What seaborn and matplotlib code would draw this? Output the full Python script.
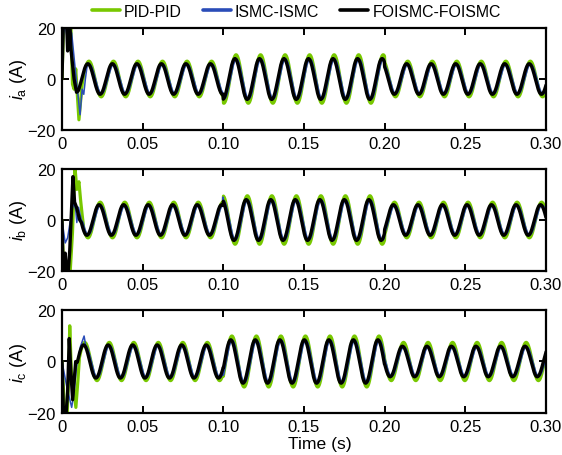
import numpy as np
import matplotlib
matplotlib.use('Agg')
import matplotlib.pyplot as plt
from matplotlib.lines import Line2D
import seaborn as sns

# 稳态参数
period = 0.0152                      # 电流周期 (s)
seg_edges = [0.0, 0.10, 0.20, 0.30]  # 负载切换时刻
phases = ['a', 'b', 'c']
peak_foismc = [0.0160, 0.0230, 0.0134]   # 各相 FOISMC 第一个稳态峰值时刻
peak_pid = [0.0167, 0.0237, 0.0141]
peak_ismc = [0.0170, 0.0240, 0.0144]

# 每段幅值 [0-0.1, 0.1-0.2, 0.2-0.3]
amp_pid = [[7.0, 9.5, 7.0], [7.0, 9.5, 7.0], [7.5, 10.0, 7.5]]
amp_ismc = [[5.8, 7.8, 5.8], [5.8, 7.8, 5.8], [6.3, 8.3, 5.8]]
amp_foismc = [[6.0, 8.0, 6.0], [6.0, 8.0, 6.0], [6.5, 8.5, 6.0]]

# 启动暂态
pid_tr_t = [[0, 0.001, 0.0025, 0.004, 0.0055, 0.0065, 0.0075, 0.0085, 0.0105, 0.0125],
            [0, 0.001, 0.003, 0.005, 0.0065, 0.008, 0.0092, 0.0105, 0.0115, 0.0125],
            [0, 0.0015, 0.0032, 0.0042, 0.0048, 0.0058, 0.0072, 0.0086, 0.0098]]
pid_tr_v = [[0, 22, 21, 22, 21, -2, -4, 4, -16, -2],
            [0, -20, -22, -21, -5, 21, 12, 15, 8, 2],
            [0, -18, -21, -5, 14, -4, -10, -18, -8]]
ismc_tr_t = [[0, 0.001, 0.002, 0.003, 0.0045, 0.006, 0.0085, 0.0112, 0.0125, 0.0135, 0.0145],
             [0, 0.002, 0.0035, 0.0055, 0.0072, 0.0085, 0.0092, 0.0102, 0.012],
             [0, 0.003, 0.006, 0.0075, 0.009, 0.0115, 0.0137]]
ismc_tr_v = [[0, 18, 22, 17, 20, 18, 2, -14, -4, -6, 0],
             [0, -9, -7, 1, 7, 4, -1, 5, 0],
             [0, -10, -18, -12, -2, 6, 10]]
foismc_tr_t = [[0, 0.0008, 0.002, 0.003, 0.0035, 0.004, 0.005, 0.0055, 0.0075, 0.009],
               [0, 0.0008, 0.002, 0.0028, 0.0038, 0.0048, 0.0068, 0.0078, 0.009, 0.011],
               [0, 0.001, 0.0025, 0.0035, 0.0045, 0.0055, 0.0066, 0.0085]]
foismc_tr_v = [[0, 22, 21, 20, 11, 21, 20, 12, 0, -5.2],
               [0, -22, -13, -21, -21, -12, 17, 7, 5, 0],
               [0, -22, -21, -12, 9, -4, -15, 0]]

# ISMC 在 b 相 0.1 s 处的尖峰
ismc_b_spike_t = [0.0998, 0.1003]
ismc_b_spike_v = [9.0, 7.0]

colors = {'PID-PID': '#78c800', 'ISMC-ISMC': '#2a4cb8', 'FOISMC-FOISMC': '#000000'}
widths = {'PID-PID': 2.3, 'ISMC-ISMC': 1.1, 'FOISMC-FOISMC': 2.4}


def build_series(tr_t, tr_v, amp, t_peak, spike_t=None, spike_v=None):
    ts = np.arange(tr_t[-1] + 0.001, 0.3002, 0.0002)
    seg = np.clip(np.searchsorted(seg_edges, ts, side='right') - 1, 0, 2)
    vs = np.array(amp)[seg] * np.cos(2 * np.pi * (ts - t_peak) / period)
    t = np.concatenate([tr_t, ts])
    v = np.concatenate([tr_v, vs])
    if spike_t is not None:
        t = np.concatenate([t, spike_t])
        v = np.concatenate([v, spike_v])
        order = np.argsort(t)
        t, v = t[order], v[order]
    return t, v


sns.set_style('ticks')
plt.rcParams['font.family'] = ['Liberation Sans', 'DejaVu Sans']
plt.rcParams['mathtext.fontset'] = 'custom'
plt.rcParams['mathtext.rm'] = 'Liberation Sans'
plt.rcParams['mathtext.it'] = 'Liberation Sans:italic'
plt.rcParams['axes.unicode_minus'] = True
plt.rcParams['text.color'] = 'black'
plt.rcParams['axes.labelcolor'] = 'black'
plt.rcParams['xtick.color'] = 'black'
plt.rcParams['ytick.color'] = 'black'
plt.rcParams['axes.edgecolor'] = 'black'

fig = plt.figure(figsize=(5.62, 4.56), dpi=100)
bottoms = [0.7127, 0.4035, 0.0932]
axes = [fig.add_axes([0.1103, b, 0.8612, 0.2237]) for b in bottoms]

for i, ax in enumerate(axes):
    t, v = build_series(pid_tr_t[i], pid_tr_v[i], amp_pid[i], peak_pid[i])
    sns.lineplot(x=t, y=v, ax=ax, color=colors['PID-PID'], lw=widths['PID-PID'],
                 estimator=None, sort=False)
    if i == 1:
        t, v = build_series(ismc_tr_t[i], ismc_tr_v[i], amp_ismc[i], peak_ismc[i],
                            ismc_b_spike_t, ismc_b_spike_v)
    else:
        t, v = build_series(ismc_tr_t[i], ismc_tr_v[i], amp_ismc[i], peak_ismc[i])
    sns.lineplot(x=t, y=v, ax=ax, color=colors['ISMC-ISMC'], lw=widths['ISMC-ISMC'],
                 estimator=None, sort=False)
    t, v = build_series(foismc_tr_t[i], foismc_tr_v[i], amp_foismc[i], peak_foismc[i])
    sns.lineplot(x=t, y=v, ax=ax, color=colors['FOISMC-FOISMC'], lw=widths['FOISMC-FOISMC'],
                 estimator=None, sort=False)

    ax.set_xlim(0, 0.30)
    ax.set_ylim(-20, 20)
    ax.set_yticks([-20, 0, 20])
    ax.set_xticks([0, 0.05, 0.10, 0.15, 0.20, 0.25, 0.30])
    ax.set_xticklabels(['0', '0.05', '0.10', '0.15', '0.20', '0.25', '0.30'])
    ax.tick_params(direction='in', top=True, right=True, length=5, width=1.4,
                   labelsize=12, pad=4.5, colors='black')
    for sp in ax.spines.values():
        sp.set_visible(True)
        sp.set_linewidth(1.6)
        sp.set_color('black')
    ax.set_ylabel(r'$i_{\mathrm{' + phases[i] + r'}}$ (A)', fontsize=12.8)
    ax.yaxis.set_label_coords(-0.068, 0.5)

axes[2].set_xlabel('Time (s)', fontsize=12.6)
axes[2].xaxis.set_label_coords(0.533, -0.235)

handles = [Line2D([], [], color=colors[k], lw=2.6) for k in colors]
fig.legend(handles, list(colors.keys()), loc='center', bbox_to_anchor=(0.527, 0.973),
           ncol=3, frameon=False, fontsize=11.4, handlelength=1.8, handletextpad=0.25,
           columnspacing=1.3, borderaxespad=0)

fig.savefig('out.png', dpi=100)
